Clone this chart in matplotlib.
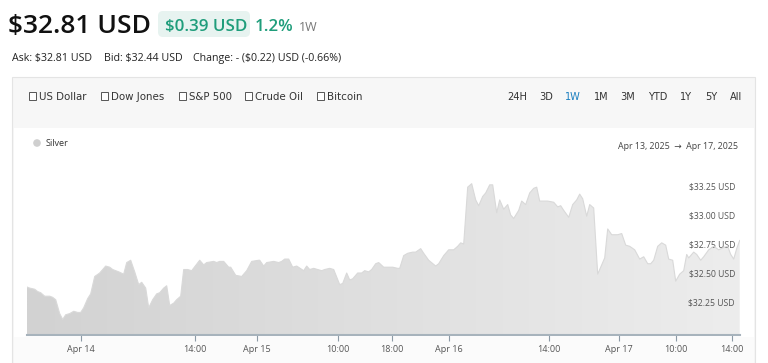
import matplotlib
matplotlib.use("Agg")
import matplotlib.pyplot as plt
from matplotlib import font_manager
from matplotlib.patches import Rectangle, FancyBboxPatch, Circle, Polygon
from matplotlib.colors import LinearSegmentedColormap
import numpy as np

# header values
price_text = "$32.81 USD"
change_text = "$0.39 USD"
change_pct = "1.2%"
period = "1W"
quote_parts = ["Ask: $32.81 USD", "Bid: $32.44 USD", "Change: - ($0.22) USD (-0.66%)"]
compare_items = ["US Dollar", "Dow Jones", "S&P 500", "Crude Oil", "Bitcoin"]
ranges = ["24H", "3D", "1W", "1M", "3M", "YTD", "1Y", "5Y", "All"]
active_range = "1W"
series_name = "Silver"
date_range = "Apr 13, 2025  \u2192  Apr 17, 2025"

# silver price, 1 week (chart sample slot, USD)
t = [0, 3, 8, 11, 14, 18, 23, 26, 29, 33, 36, 39, 43, 47, 51, 54, 57, 61, 64, 68,
     73, 79, 83, 86, 92, 97, 100, 104, 108, 112, 115, 119, 122, 126, 130, 133, 137, 140, 143, 147,
     150, 154, 157, 161, 165, 173, 177, 180, 187, 190, 193, 197, 202, 204, 209, 215, 220, 225, 232, 233,
     237, 240, 247, 252, 255, 258, 262, 266, 270, 277, 280, 283, 287, 291, 295, 298, 303, 307, 313, 316,
     320, 323, 326, 331, 335, 338, 342, 345, 349, 352,
     357, 362, 366, 371, 373, 377, 381, 386, 389, 394, 397, 402, 409, 412, 417, 422, 427, 431, 434, 437,
     441, 445, 449, 452, 456, 459, 463, 466, 470, 473, 477, 481, 484, 487, 492, 495, 499, 503, 507, 510,
     513, 517, 521, 527, 531, 534, 537, 542, 546, 550, 553, 556, 560, 563, 567, 571, 574, 578, 581, 585,
     591, 595, 599, 603, 608, 613, 617, 621, 624, 627, 631, 635, 639, 642, 646, 649, 653, 657, 660, 662,
     667, 670, 674, 677, 682, 687, 692, 697, 701, 704, 707, 710, 713]
price = [32.38, 32.37, 32.36, 32.34, 32.33, 32.30, 32.30, 32.29, 32.27, 32.15, 32.10, 32.14, 32.15, 32.17, 32.16, 32.16, 32.20, 32.28, 32.32, 32.47,
         32.50, 32.56, 32.55, 32.53, 32.51, 32.49, 32.59, 32.61, 32.51, 32.40, 32.42, 32.37, 32.20, 32.27, 32.32, 32.33, 32.37, 32.39, 32.22, 32.24,
         32.27, 32.30, 32.53, 32.53, 32.52, 32.61, 32.57, 32.59, 32.60, 32.59, 32.60, 32.60, 32.55, 32.55, 32.48, 32.47, 32.52, 32.60, 32.61, 32.61,
         32.56, 32.59, 32.60, 32.59, 32.60, 32.62, 32.62, 32.55, 32.56, 32.52, 32.56, 32.53, 32.54, 32.53, 32.52, 32.53, 32.54, 32.53, 32.40, 32.41,
         32.50, 32.44, 32.45, 32.50, 32.50, 32.52, 32.51, 32.53, 32.58, 32.59,
         32.55, 32.55, 32.55, 32.54, 32.54, 32.65, 32.67, 32.68, 32.68, 32.71, 32.67, 32.61, 32.56, 32.58, 32.65, 32.70, 32.70, 32.73, 32.76, 32.75,
         33.24, 33.27, 33.13, 33.08, 33.16, 33.19, 33.26, 33.26, 33.02, 33.13, 33.05, 33.09, 33.00, 32.97, 33.04, 33.12, 33.09, 33.19, 33.23, 33.24,
         33.12, 33.12, 33.12, 33.11, 33.07, 33.08, 33.04, 32.98, 33.09, 33.13, 33.18, 33.14, 32.99, 33.09, 33.06, 32.49, 32.55, 32.63, 32.88, 32.83,
         32.83, 32.84, 32.74, 32.73, 32.70, 32.62, 32.64, 32.58, 32.58, 32.61, 32.73, 32.76, 32.74, 32.62, 32.61, 32.43, 32.49, 32.52, 32.66, 32.63,
         32.68, 32.66, 32.61, 32.64, 32.70, 32.73, 32.70, 32.72, 32.73, 32.66, 32.62, 32.71, 32.78]

xtick_pos = [54, 168, 230, 311, 365, 422, 522, 592, 649, 705]
xtick_labels = ["Apr 14", "14:00", "Apr 15", "10:00", "18:00", "Apr 16", "14:00", "Apr 17", "10:00", "14:00"]
ytick_vals = [32.25, 32.50, 32.75, 33.00, 33.25]
ytick_labels = ["$32.25 USD", "$32.50 USD", "$32.75 USD", "$33.00 USD", "$33.25 USD"]

W, H = 768, 363
fig = plt.figure(figsize=(W / 100, H / 100), dpi=100)
fig.patch.set_facecolor("white")

main_font = ["Open Sans", "DejaVu Sans"]

# pick a narrow face for the toolbar if one is installed
installed = {(f.name, f.stretch) for f in font_manager.fontManager.ttflist}
names = {n for n, _ in installed}
if "Liberation Sans Narrow" in names:
    narrow = dict(family=["Liberation Sans Narrow", "DejaVu Sans"])
elif ("DejaVu Sans", "condensed") in installed or ("DejaVu Sans", "semi-condensed") in installed:
    narrow = dict(family=["DejaVu Sans"], fontstretch="condensed")
else:
    narrow = dict(family=["Roboto", "DejaVu Sans"])

# page layer in pixel coordinates
bg = fig.add_axes([0, 0, 1, 1])
bg.set_xlim(0, W)
bg.set_ylim(H, 0)
bg.axis("off")

bg.text(8, 33, price_text, fontsize=19, family=main_font, weight="semibold", color="#111111")
bg.add_patch(FancyBboxPatch((158, 11), 92, 26, boxstyle="round,pad=0,rounding_size=5",
                            facecolor="#e7f3f0", edgecolor="none"))
green = "#1f9d7b"
bg.text(165, 31, change_text, fontsize=12.2, family=main_font, weight="semibold", color=green)
bg.text(255, 31, change_pct, fontsize=12.2, family=main_font, weight="semibold", color=green)
bg.text(299, 31, period, fontsize=9, family=main_font, color="#777777")

for xq, s in zip([12, 104, 193], quote_parts):
    bg.text(xq, 61, s, fontsize=7.7, family=main_font, color="#222222")

# card
bg.add_patch(Rectangle((12, 77), 743, 290, facecolor="#f7f7f7", edgecolor="#e4e4e4", lw=0.8))
bg.add_patch(Rectangle((13.5, 128), 740, 240, facecolor="white", edgecolor="none"))
bg.add_patch(Rectangle((13.5, 337), 740, 30, facecolor="#fbfbfb", edgecolor="none"))

box_x = [29, 101, 179, 245, 317]
for bx, name in zip(box_x, compare_items):
    bg.add_patch(Rectangle((bx, 91.5), 7, 8, facecolor="white", edgecolor="#555555", lw=0.7))
    bg.text(bx + 10, 100, name, fontsize=8.2, color="#333333", **narrow)

range_x = [517, 546, 573, 601, 628, 658, 686, 711, 736]
for rx, r in zip(range_x, ranges):
    bg.text(rx, 100, r, fontsize=7.8, ha="center",
            color="#1b7fc0" if r == active_range else "#333333", **narrow)

bg.add_patch(Circle((37, 143), 3.8, facecolor="#cfcfcf", edgecolor="none"))
bg.text(46, 146, series_name, fontsize=6.6, family=main_font, color="#333333")
bg.text(738, 149, date_range, fontsize=6.4, family=main_font, color="#444444", ha="right")

# chart
x0, x1, yb, yt = 26.7, 740, 335, 160
ax = fig.add_axes([x0 / W, (H - yb) / H, (x1 - x0) / W, (yb - yt) / H])
ax.patch.set_alpha(0)
ymin = 31.9655
ymax = ymin + (yb - yt) * 0.25 / 29
ax.set_xlim(0, x1 - x0)
ax.set_ylim(ymin, ymax)

verts = [(t[0], ymin)] + list(zip(t, price)) + [(t[-1], ymin)]
area = Polygon(verts, closed=True, facecolor="none", edgecolor="none")
ax.add_patch(area)
cmap = LinearSegmentedColormap.from_list("g", ["#d2d2d2", "#ededed"])
grad = np.linspace(0, 1, 256).reshape(1, -1)
im = ax.imshow(grad, extent=[0, x1 - x0, ymin, ymax], aspect="auto", cmap=cmap,
               origin="lower", interpolation="bilinear", zorder=1)
im.set_clip_path(area)
ax.plot(t, price, color="#d9d9d9", lw=0.8, zorder=2)

for s in ["top", "left", "right"]:
    ax.spines[s].set_visible(False)
ax.spines["bottom"].set_color("#a7b3bc")
ax.spines["bottom"].set_linewidth(1.5)
ax.spines["bottom"].set_zorder(3)

ax.set_xticks(xtick_pos)
ax.set_xticklabels(xtick_labels, fontsize=6.5, family=main_font, color="#555555")
ax.tick_params(axis="x", length=4.5, width=0.8, color="#8c9aa6", pad=2.5)

ax.yaxis.tick_right()
ax.set_yticks(ytick_vals)
ax.set_yticklabels(ytick_labels, fontsize=6.2, family=main_font, color="#555555")
ax.tick_params(axis="y", length=0, pad=-3.6)
for lbl in ax.get_yticklabels():
    lbl.set_horizontalalignment("right")

fig.savefig("out.png", dpi=100)
